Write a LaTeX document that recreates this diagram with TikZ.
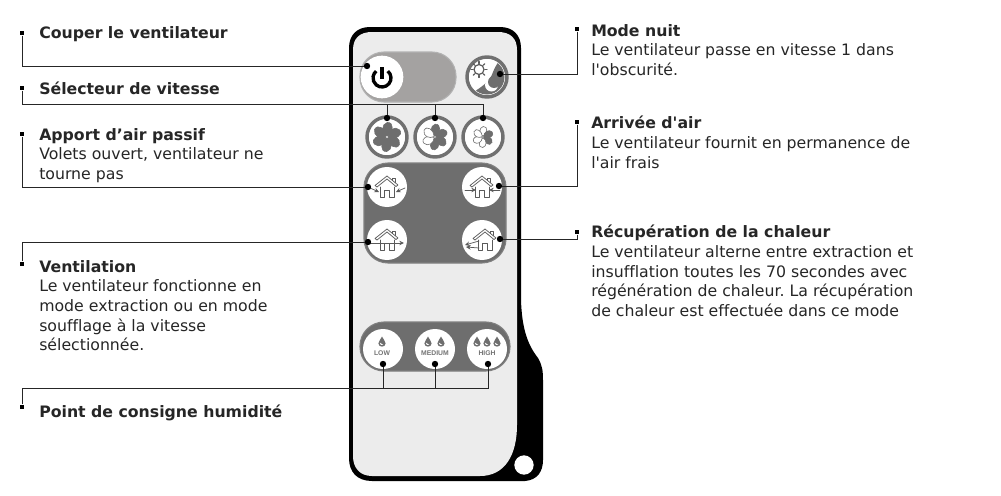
\documentclass[tikz,border=0pt]{standalone}
\usepackage{fontspec}
\newfontfamily\txtfont[Ligatures=NoCommon]{DejaVu Sans}
\newfontfamily\btnfont{Liberation Sans}
\usetikzlibrary{arrows.meta}

\definecolor{ringgray}{HTML}{707070}
\definecolor{panelgray}{HTML}{6E6E6E}
\definecolor{pillgray}{HTML}{A4A2A1}
\definecolor{bodygray}{HTML}{ECECEC}
\definecolor{linegray}{HTML}{5A5A5A}

\tikzset{
    btn/.style={circle, fill=white, draw=ringgray, line width=2.6pt, minimum size=30pt, inner sep=0pt},
    softbtn/.style={circle, fill=white, draw=none, minimum size=30pt, inner sep=0pt},
    dotmark/.style={circle, fill=black, minimum size=4.8pt, inner sep=0pt},
    sqmark/.style={rectangle, fill=black, minimum size=3.6pt, inner sep=0pt},
    wire/.style={line width=.75pt, black!85},
    txt/.style={anchor=north west, align=left, inner sep=0pt, font=\txtfont\fontsize{11.8}{14.7}\selectfont\frenchspacing, text=black!85},
    icon/.style={draw=linegray, line width=.55pt, line cap=round, line join=round},
    btntxt/.style={font=\btnfont\bfseries\fontsize{5.1}{5}\selectfont, text=black!55, inner sep=0pt},
}

\newcommand{\fanicon}[4]{%
    \foreach \k in {0,...,5}{
        \def\bladecol{white}
        \ifnum\k<#3 \else\ifnum\k>#4 \else\def\bladecol{panelgray}\fi\fi
        \filldraw[fill=\bladecol, draw=panelgray, line width=.45pt, shift={#1}, rotate=\k*60+5, scale=#2]
            (0,-1) .. controls (-6,-4) and (-7,-12) .. (-1,-14.5) .. controls (6,-15.5) and (6,-6) .. (0,-1);
    }
}
\newcommand{\houseicon}[1]{%
    \begin{scope}[shift={#1}, icon]
        \draw (-12,-1.5) -- (0,-11) -- (11,-2) -- (9,-.5) -- (0,-8) -- (-10,0) -- cycle;
        \draw (5,-7) -- (5,-9) -- (8,-9) -- (8,-4.5);
        \draw (-7,0) -- (-7,10) -- (-2.5,10) -- (-2.5,3) -- (2.5,3) -- (2.5,10) -- (7,10) -- (7,0);
    \end{scope}
}
\newcommand{\dropicon}[1]{%
    \begin{scope}[shift={#1}]
        \fill[panelgray] (0,-5.5) .. controls (1,-2.5) and (3.6,-1) .. (3.6,1.4)
            .. controls (3.6,3.6) and (1.8,4.6) .. (0,4.6)
            .. controls (-1.8,4.6) and (-3.6,3.6) .. (-3.6,1.4)
            .. controls (-3.6,-1) and (-1,-2.5) .. (0,-5.5);
        \fill[white] (-2.2,.6) .. controls (-2.4,2.6) and (-.6,3.6) .. (1.4,3)
            .. controls (-.4,2.4) and (-1.2,1.8) .. (-2.2,.6);
    \end{scope}
}

\begin{document}
\begin{tikzpicture}[x=.75pt, y=.75pt, yscale=-1]
    \useasboundingbox (0,0) rectangle (1001,496);
    \fill[white] (0,0) rectangle (1001,496);

    % remote body
    \fill[black] (349,48) .. controls (349,35) and (357,27) .. (370,27) -- (500,27)
        .. controls (513,27) and (521,35) .. (521,48) -- (521,300)
        .. controls (522,330) and (528,345) .. (538,358)
        .. controls (542,365) and (543,370) .. (543,380) -- (543,460)
        .. controls (543,472) and (537,480) .. (525,481) -- (372,481)
        .. controls (357,481) and (349,472) .. (349,458) -- cycle;
    \fill[bodygray] (353,50) .. controls (353,38) and (360,32) .. (372,32) -- (498,32)
        .. controls (510,32) and (517,38) .. (517,50) -- (517,425)
        .. controls (517,455) and (505,476) .. (480,476) -- (372,476)
        .. controls (360,476) and (353,468) .. (353,456) -- cycle;
    \node[circle, fill=white, minimum size=14.5pt, inner sep=0pt] (hole) at (524,465) {};

    % power pill
    \filldraw[fill=pillgray, draw=black!30, line width=.8pt, rounded corners=18pt] (360,52) rectangle (456,102);
    \node[softbtn, minimum size=32pt] (pwr) at (382,77) {};
    \draw[black, line width=2.5pt] (382,67) -- (382,79);
    \draw[black, line width=2.5pt, shift={(382,78)}] (-50:9) arc[start angle=-50, end angle=230, radius=9];

    % night mode
    \node[btn] (night) at (487,77) {};
    \begin{scope}
        \clip (487,77) circle (17.5);
        \fill[panelgray] (472,93) .. controls (480,88) and (490,82) .. (493,72)
            .. controls (495,67) and (497,64) .. (499,61) -- (512,70) -- (505,100) -- cycle;
        \fill[white] (491.5,85) circle (6.5);
        \fill[panelgray] (494,82) circle (6);
    \end{scope}
    \draw[icon, line width=.9pt] (479,69.5) circle (5);
    \foreach \a in {0,45,...,315}{
        \draw[icon, line width=.9pt, shift={(479,69.5)}] (\a:6) -- (\a:8);
    }

    % fan speeds
    \node[btn] (fana) at (387,137) {};
    \node[btn] (fanb) at (435,137) {};
    \node[btn] (fanc) at (483,137) {};
    \fanicon{(387,137)}{1}{0}{5}
    \fanicon{(435,137)}{.88}{0}{3}
    \fanicon{(483,137)}{.72}{1}{2}

    % air panel
    \filldraw[fill=panelgray, draw=black!50, line width=.8pt, rounded corners=18pt] (364,163) rectangle (506,263);
    \node[softbtn] (aira) at (387,187) {};
    \node[softbtn] (airb) at (482,187) {};
    \node[softbtn] (airc) at (387,240) {};
    \node[softbtn] (aird) at (482,240) {};
    \houseicon{(aira)}
    \houseicon{(airb)}
    \houseicon{(airc)}
    \houseicon{([xshift=2.25pt]aird)}
    \begin{scope}[icon, -{Stealth[length=3.5pt,width=3.4pt]}]
        \draw (370,188) -- (379,192);
        \draw (405,188) -- (396,192);
        \draw (465,190) -- (476,190);
        \draw (500,190) -- (489,190);
        \draw (370,243) -- (404,243);
        \draw (479,241) -- (465,245);
        \draw (479,248) -- (466,247);
    \end{scope}

    % humidity panel
    \filldraw[fill=panelgray, draw=black!50, line width=.8pt, rounded corners=18pt] (360,322) rectangle (510,371);
    \node[softbtn] (low) at (383,349) {};
    \node[softbtn] (med) at (435,349) {};
    \node[softbtn] (high) at (487,349) {};
    \dropicon{(382,342)}
    \dropicon{(428,342)} \dropicon{(441,342)}
    \dropicon{(477,342)} \dropicon{(487,342)} \dropicon{(497,342)}
    \node[btntxt] (lowtxt) at (382,353) {LOW};
    \node[btntxt] (medtxt) at (435,353) {MEDIUM};
    \node[btntxt] (hightxt) at (487,353) {HIGH};

    % end marks
    \node[sqmark] (scut) at (22,33) {};
    \node[sqmark] (sspeed) at (22,88) {};
    \node[sqmark] (spassive) at (22,134) {};
    \node[sqmark] (svent) at (22,264) {};
    \node[sqmark] (shum) at (22,407) {};
    \node[sqmark] (snight) at (577,29) {};
    \node[sqmark] (sin) at (577,122) {};
    \node[sqmark] (sheat) at (577,232) {};

    \node[dotmark] (dcut) at (367,66) {};
    \node[dotmark] (dfana) at (387,118) {};
    \node[dotmark] (dfanb) at (435,118) {};
    \node[dotmark] (dfanc) at (483,118) {};
    \node[dotmark] (dpassive) at (368,187) {};
    \node[dotmark] (dvent) at (368,242) {};
    \node[dotmark] (dlow) at (383,364) {};
    \node[dotmark] (dmed) at (435,364) {};
    \node[dotmark] (dhigh) at (488,364) {};
    \node[dotmark] (dnight) at (500,74) {};
    \node[dotmark] (din) at (499,186) {};
    \node[dotmark] (dheat) at (500,239) {};

    \coordinate (hspeed) at (483,104);
    \coordinate (hhum) at (488,388);

    \draw[wire] (scut) |- (dcut);
    \draw[wire] (sspeed) |- (hspeed) -- (dfanc);
    \draw[wire] (dfana) -- (dfana |- hspeed);
    \draw[wire] (dfanb) -- (dfanb |- hspeed);
    \draw[wire] (spassive) |- (dpassive);
    \draw[wire] (svent) |- (dvent);
    \draw[wire] (shum) |- (hhum) -- (dhigh);
    \draw[wire] (dlow) -- (dlow |- hhum);
    \draw[wire] (dmed) -- (dmed |- hhum);
    \draw[wire] (snight) |- (dnight);
    \draw[wire] (sin) |- (din);
    \draw[wire] (sheat) |- (dheat);

    % texts
    \node[txt] (tcut) at (39,26) {\textbf{Couper le ventilateur}};
    \node[txt] (tspeed) at (39,82) {\textbf{Sélecteur de vitesse}};
    \node[txt] (tpassive) at (39,128) {\textbf{Apport d’air passif}\\Volets ouvert, ventilateur ne\\tourne pas};
    \node[txt] (tvent) at (39,260) {\textbf{Ventilation}\\Le ventilateur fonctionne en\\mode extraction ou en mode\\soufflage à la vitesse\\sélectionnée.};
    \node[txt] (thum) at (39,405) {\textbf{Point de consigne humidité}};
    \node[txt] (tnight) at (591,24) {\textbf{Mode nuit}\\Le ventilateur passe en vitesse 1 dans\\l'obscurité.};
    \node[txt] (tin) at (591,116) {\textbf{Arrivée d'air}\\Le ventilateur fournit en permanence de\\l'air frais};
    \node[txt] (theat) at (591,225) {\textbf{Récupération de la chaleur}\\Le ventilateur alterne entre extraction et\\insufflation toutes les 70 secondes avec\\régénération de chaleur. La récupération\\de chaleur est effectuée dans ce mode};
\end{tikzpicture}
\end{document}
